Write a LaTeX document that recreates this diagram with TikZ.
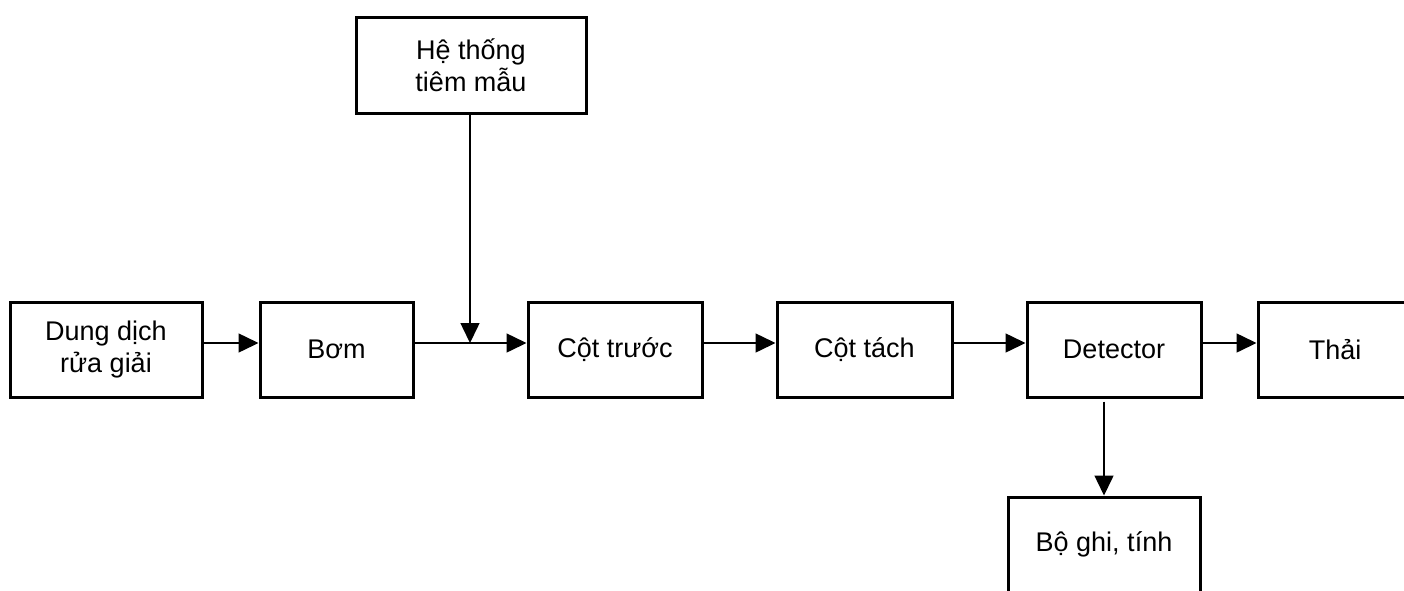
\documentclass[tikz,border=0pt]{standalone}
\usepackage{fontspec}
\setmainfont{Liberation Sans}
\usetikzlibrary{arrows.meta}
\tikzset{
  box/.style={draw, line width=3pt, inner sep=0pt, align=center,
    font=\fontsize{27}{32}\selectfont, minimum height=95pt},
  arr/.style={line width=1.5pt, -{Triangle[length=20pt,width=19pt]}},
  ln/.style={line width=1.5pt}
}
\begin{document}
\begin{tikzpicture}[x=1pt,y=-1pt]
\useasboundingbox (0,0) rectangle (1404,590);
\node[box, minimum width=192pt] (dd) at (106,349.5) {Dung dịch\\rửa giải};
\node[box, minimum width=153pt] (bom) at (336.5,349.5) {Bơm};
\node[box, minimum width=230pt, minimum height=96pt] (ht) at (471,65) {Hệ thống\\tiêm mẫu};
\node[box, minimum width=174pt] (ct) at (615,349.5) {Cột trước};
\node[box, minimum width=175pt] (cta) at (864.5,349.5) {Cột tách};
\node[box, minimum width=174pt] (det) at (1114,349.5) {Detector};
\node[box, minimum width=154pt] (thai) at (1335,349.5) {Thải};
\node[box, minimum width=192pt] (bg) at (1104,544.5) {Bộ ghi, tính};
\draw[arr] ([yshift=6.5pt]dd.east) -- ([yshift=6.5pt]bom.west);
\draw[arr] ([yshift=6.5pt]bom.east) -- ([yshift=6.5pt]ct.west);
\coordinate (j) at ([xshift=-1pt,yshift=6.5pt]ht.south |- bom.east);
\draw[arr] ([xshift=-1pt]ht.south) -- (j);
\draw[arr] ([yshift=6.5pt]ct.east) -- ([yshift=6.5pt]cta.west);
\draw[arr] ([yshift=6.5pt]cta.east) -- ([yshift=6.5pt]det.west);
\draw[arr] ([yshift=6.5pt]det.east) -- ([yshift=6.5pt]thai.west);
\draw[arr, shorten <=3pt] (bg.north |- det.south) -- (bg.north);
\end{tikzpicture}
\end{document}
